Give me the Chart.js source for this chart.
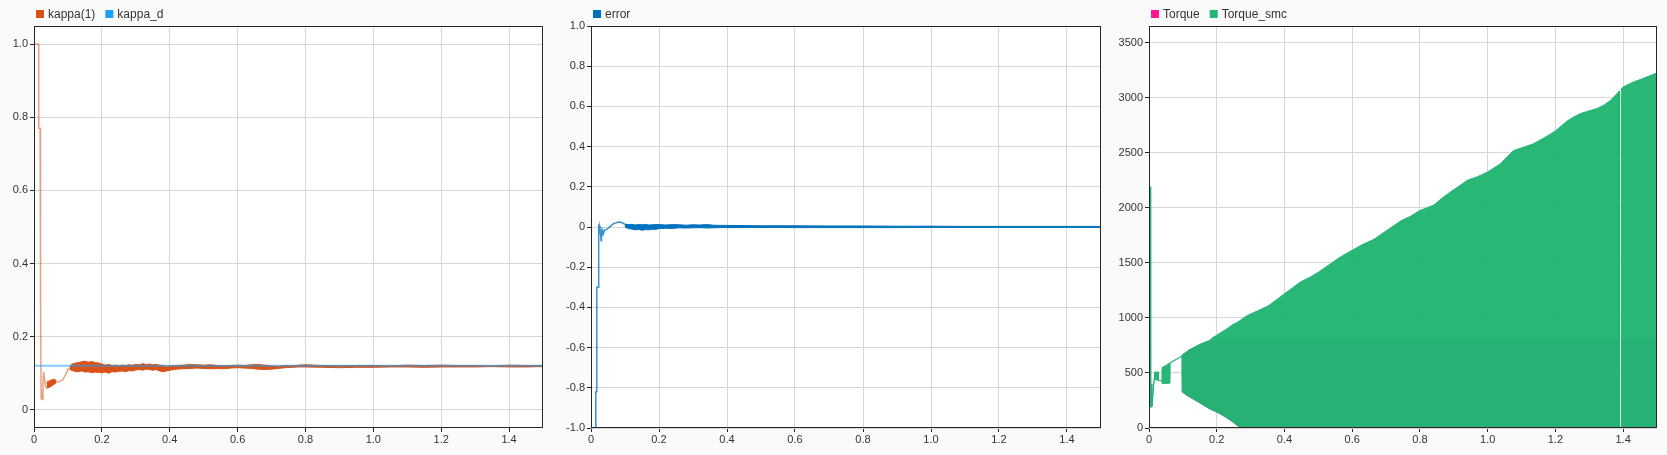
<!DOCTYPE html>
<html><head><meta charset="utf-8">
<script src="https://cdn.jsdelivr.net/npm/chart.js@4.4.1/dist/chart.umd.min.js"></script>
<style>
html,body{margin:0;padding:0;background:#fafafa;}
body{width:1667px;height:455px;position:relative;overflow:hidden;}
.p{position:absolute;top:0;height:455px;}
canvas{display:block;}
</style></head><body>
<div class="p" style="left:0;width:556px"><canvas id="c1" width="556" height="455"></canvas></div>
<div class="p" style="left:556px;width:556px"><canvas id="c2" width="556" height="455"></canvas></div>
<div class="p" style="left:1112px;width:555px"><canvas id="c3" width="555" height="455"></canvas></div>
<script>
// ---------- shared axis ticks ----------
const xTicks = [0, 0.2, 0.4, 0.6, 0.8, 1.0, 1.2, 1.4];
const xTickLabels = ['0', '0.2', '0.4', '0.6', '0.8', '1.0', '1.2', '1.4'];

// ---------- panel 1: kappa ----------
const kappaYTicks = [0, 0.2, 0.4, 0.6, 0.8, 1.0];
const kappaYLabels = ['0', '0.2', '0.4', '0.6', '0.8', '1.0'];
const kappaLineT = [0, 0, 0.014, 0.0141, 0.018, 0.0181, 0.0205, 0.021, 0.023, 0.0245, 0.0265, 0.0285, 0.031, 0.034, 0.0375, 0.05, 0.065, 0.075, 0.085, 0.092, 0.100, 0.105];
const kappaLine  = [-0.05, 1.0, 1.0, 0.77, 0.77, 0.30, 0.30, 0.03, 0.055, 0.028, 0.07, 0.103, 0.085, 0.065, 0.060, 0.070, 0.076, 0.077, 0.082, 0.094, 0.110, 0.114];
const kappaEarlyBandT = [0.0375, 0.041, 0.045, 0.049, 0.052, 0.055, 0.058, 0.062, 0.065];
const kappaEarlyUpper = [0.072, 0.079, 0.077, 0.082, 0.080, 0.084, 0.082, 0.083, 0.080];
const kappaEarlyLower = [0.058, 0.062, 0.060, 0.065, 0.064, 0.068, 0.069, 0.071, 0.074];
const kappaBandT = [0.105, 0.11, 0.12, 0.13, 0.14, 0.15, 0.16, 0.17, 0.18, 0.19,
  0.20, 0.21, 0.22, 0.23, 0.24, 0.25, 0.26, 0.27, 0.28, 0.29,
  0.30, 0.31, 0.32, 0.33, 0.34, 0.35, 0.36, 0.37, 0.38, 0.39,
  0.40, 0.42, 0.44, 0.46, 0.48, 0.50, 0.52, 0.54, 0.56, 0.58,
  0.60, 0.62, 0.64, 0.66, 0.68, 0.70, 0.72, 0.74, 0.76, 0.78,
  0.80, 0.85, 0.90, 0.95, 1.00, 1.05, 1.10, 1.15, 1.20, 1.25,
  1.30, 1.35, 1.40, 1.45, 1.50];
const kappaUpper = [0.118, 0.124, 0.127, 0.129, 0.131, 0.133, 0.130, 0.132, 0.129, 0.128,
  0.125, 0.122, 0.124, 0.121, 0.122, 0.120, 0.122, 0.121, 0.123, 0.122,
  0.124, 0.123, 0.126, 0.124, 0.125, 0.123, 0.124, 0.122, 0.121, 0.119,
  0.120, 0.121, 0.122, 0.124, 0.123, 0.122, 0.123, 0.121, 0.120, 0.121,
  0.122, 0.121, 0.123, 0.124, 0.122, 0.120, 0.119, 0.121, 0.120, 0.122,
  0.123, 0.121, 0.120, 0.121, 0.121, 0.120, 0.122, 0.121, 0.122, 0.121,
  0.121, 0.120, 0.122, 0.121, 0.121];
const kappaLower = [0.110, 0.108, 0.105, 0.104, 0.106, 0.103, 0.104, 0.101, 0.103, 0.102,
  0.101, 0.103, 0.100, 0.104, 0.103, 0.105, 0.106, 0.104, 0.107, 0.106,
  0.109, 0.110, 0.108, 0.111, 0.110, 0.108, 0.110, 0.106, 0.104, 0.106,
  0.108, 0.111, 0.112, 0.113, 0.114, 0.113, 0.112, 0.113, 0.112, 0.114,
  0.115, 0.114, 0.113, 0.111, 0.110, 0.111, 0.113, 0.115, 0.116, 0.117,
  0.117, 0.116, 0.115, 0.116, 0.116, 0.117, 0.117, 0.116, 0.117, 0.117,
  0.117, 0.118, 0.117, 0.117, 0.118];
const kappaDT = [0, 1.5];
const kappaD  = [0.12, 0.12];

// ---------- panel 2: error ----------
const errYTicks = [-1.0, -0.8, -0.6, -0.4, -0.2, 0, 0.2, 0.4, 0.6, 0.8, 1.0];
const errYLabels = ['-1.0', '-0.8', '-0.6', '-0.4', '-0.2', '0', '0.2', '0.4', '0.6', '0.8', '1.0'];
const errLineT = [0, 0.014, 0.0141, 0.017, 0.0171, 0.0215, 0.0218, 0.0235, 0.0248, 0.026, 0.0275, 0.0297, 0.031, 0.033, 0.035, 0.037, 0.040, 0.0466, 0.0565, 0.0664, 0.0812, 0.091, 0.101, 0.106];
const errLine  = [-1.2, -1.2, -0.82, -0.82, -0.30, -0.30, 0.012, -0.010, 0.005, -0.035, -0.015, -0.068, -0.025, -0.040, -0.020, -0.030, -0.015, -0.012, 0.003, 0.017, 0.025, 0.022, 0.012, 0.006];
const errBandT = [0.10, 0.11, 0.12, 0.13, 0.14, 0.15, 0.16, 0.17, 0.18, 0.19,
  0.20, 0.22, 0.24, 0.26, 0.28, 0.30, 0.32, 0.34, 0.36, 0.38,
  0.40, 0.45, 0.50, 0.55, 0.60, 0.70, 0.80, 0.90, 1.00, 1.10,
  1.20, 1.30, 1.40, 1.50];
const errUpper = [0.014, 0.012, 0.013, 0.010, 0.012, 0.011, 0.013, 0.010, 0.011, 0.012,
  0.012, 0.010, 0.012, 0.011, 0.009, 0.011, 0.010, 0.012, 0.009, 0.008,
  0.008, 0.007, 0.006, 0.006, 0.006, 0.005, 0.005, 0.004, 0.004, 0.003,
  0.003, 0.003, 0.003, 0.003];
const errLower = [0.000, -0.008, -0.010, -0.014, -0.012, -0.016, -0.013, -0.014, -0.011, -0.012,
  -0.008, -0.006, -0.007, -0.004, -0.005, -0.004, -0.003, -0.005, -0.004, -0.003,
  -0.003, -0.002, -0.003, -0.002, -0.003, -0.003, -0.003, -0.003, -0.002, -0.002,
  -0.002, -0.002, -0.002, -0.002];

// ---------- panel 3: torque ----------
const torqueYTicks = [0, 500, 1000, 1500, 2000, 2500, 3000, 3500];
const torqueYLabels = ['0', '500', '1000', '1500', '2000', '2500', '3000', '3500'];
const smcT = [0, 0.0045, 0.005, 0.008, 0.0085, 0.011, 0.014, 0.018, 0.0185, 0.022, 0.027, 0.0275, 0.038, 0.0385, 0.045, 0.050, 0.056, 0.062, 0.0625, 0.070, 0.080, 0.090, 0.097, 0.0975, 0.11, 0.12, 0.135, 0.15, 0.165, 0.177, 0.19, 0.2, 0.215, 0.23, 0.245, 0.254, 0.262, 0.27, 0.285, 0.3, 0.32, 0.35, 0.375, 0.4, 0.425, 0.447, 0.475, 0.5, 0.53, 0.565, 0.6, 0.63, 0.664, 0.703, 0.743, 0.772, 0.8, 0.82, 0.841, 0.865, 0.89, 0.915, 0.94, 0.97, 1.0, 1.038, 1.06, 1.077, 1.105, 1.136, 1.17, 1.2, 1.235, 1.255, 1.274, 1.3, 1.323, 1.345, 1.363, 1.38, 1.3885, 1.389, 1.394, 1.3945, 1.4, 1.431, 1.46, 1.5];
const smcUpper = [2190, 2190, 400, 400, 195, 280, 400, 505, 512, 505, 510, 432, 430, 548, 560, 568, 580, 590, 592, 606, 622, 640, 652, 662, 690, 712, 735, 760, 778, 792, 825, 842, 872, 900, 935, 948, 962, 978, 1012, 1035, 1063, 1105, 1160, 1220, 1275, 1326, 1368, 1415, 1478, 1553, 1614, 1665, 1713, 1795, 1880, 1922, 1975, 1998, 2025, 2085, 2143, 2195, 2249, 2282, 2325, 2400, 2470, 2520, 2548, 2582, 2640, 2697, 2788, 2825, 2855, 2880, 2900, 2935, 2976, 3030, 3060, 0, 0, 3078, 3097, 3142, 3175, 3224];
const smcLower = [190, 190, 190, 190, 195, 280, 400, 505, 440, 438, 435, 432, 430, 405, 405, 405, 405, 408, 592, 606, 622, 640, 652, 330, 300, 282, 255, 228, 200, 178, 158, 145, 120, 92, 60, 40, 20, 0, 0, 0, 0, 0, 0, 0, 0, 0, 0, 0, 0, 0, 0, 0, 0, 0, 0, 0, 0, 0, 0, 0, 0, 0, 0, 0, 0, 0, 0, 0, 0, 0, 0, 0, 0, 0, 0, 0, 0, 0, 0, 0, 0, 0, 0, 0, 0, 0, 0, 0];
const torqueT = [0.0975, 0.11, 0.12, 0.135, 0.15, 0.165, 0.177, 0.183, 0.2, 0.215, 0.23, 0.245, 0.254, 0.262, 0.27, 1.3885, 1.389, 1.394, 1.3945, 1.5];
const torqueUpper = [662, 690, 712, 735, 760, 778, 792, 800, 800, 800, 800, 800, 800, 800, 800, 800, 0, 0, 800, 800];
const torqueLower = [330, 300, 282, 255, 228, 200, 178, 168, 145, 120, 92, 60, 40, 20, 0, 0, 0, 0, 0, 0];

// ---------- helpers ----------
const pts = (t, v) => t.map((x, i) => ({x: x, y: v[i]}));
const FONT = '"Liberation Sans", Arial, sans-serif';

const bgPlugin = {id: 'plotBg', beforeDraw(chart) {
  const a = chart.chartArea, ctx = chart.ctx;
  ctx.save(); ctx.fillStyle = '#ffffff';
  ctx.fillRect(a.left, a.top, a.right - a.left, a.bottom - a.top);
  ctx.restore();
}};
const framePlugin = {id: 'plotFrame', afterDraw(chart) {
  const a = chart.chartArea, ctx = chart.ctx;
  ctx.save(); ctx.strokeStyle = '#262626'; ctx.lineWidth = 1;
  const l = Math.round(a.left) + 0.5, t = Math.round(a.top) + 0.5;
  const r = Math.round(a.right) - 0.5, b = Math.round(a.bottom) - 0.5;
  ctx.strokeRect(l, t, r - l, b - t);
  ctx.restore();
}};
const legendPlugin = {id: 'customLegend', afterDraw(chart, args, opts) {
  const ctx = chart.ctx; let x = Math.round(chart.chartArea.left) + 2; const y = 14;
  ctx.save(); ctx.font = '12px ' + FONT; ctx.textBaseline = 'middle'; ctx.textAlign = 'left';
  for (const it of opts.items) {
    ctx.fillStyle = it.color; ctx.fillRect(x, y - 4, 8, 8);
    x += 12; ctx.fillStyle = '#333333'; ctx.fillText(it.label, x, y + 0.5);
    x += ctx.measureText(it.label).width + 10;
  }
  ctx.restore();
}};

function axis(min, max, tickVals, tickLabels, fitFn) {
  return {
    type: 'linear', min: min, max: max,
    afterBuildTicks: s => { s.ticks = tickVals.map(v => ({value: v})); },
    afterFit: fitFn,
    ticks: {callback: (v, i) => tickLabels[i], font: {family: FONT, size: 11}, color: '#333333', padding: 2, maxRotation: 0, autoSkip: false},
    grid: {color: '#d6d6d6', tickColor: '#262626', tickLength: 4, lineWidth: 1},
    border: {display: false}
  };
}

function makeChart(id, cfg) {
  const xs = axis(0, 1.5, xTicks, xTickLabels, s => { s.height = 27; });
  xs.ticks.padding = 1;
  return new Chart(document.getElementById(id), {
    type: 'line',
    data: {datasets: cfg.datasets},
    options: {
      responsive: false, animation: false, devicePixelRatio: 1,
      layout: {padding: {top: 26, right: cfg.padRight, left: 0, bottom: 0}},
      elements: {point: {radius: 0}, line: {tension: 0}},
      plugins: {legend: {display: false}, tooltip: {enabled: false}, customLegend: {items: cfg.legend}},
      scales: {x: xs, y: axis(cfg.yMin, cfg.yMax, cfg.yTicks, cfg.yLabels, s => { s.width = cfg.yWidth; })}
    },
    plugins: [bgPlugin, framePlugin, legendPlugin]
  });
}

// panel 1
makeChart('c1', {
  yMin: -0.05, yMax: 1.05, yTicks: kappaYTicks, yLabels: kappaYLabels, yWidth: 34, padRight: 13,
  legend: [{label: 'kappa(1)', color: '#D95319'}, {label: 'kappa_d', color: '#1BA1F5'}],
  datasets: [
    {label: 'kappa_d', data: pts(kappaDT, kappaD), borderColor: 'rgba(27,161,245,0.55)', borderWidth: 2, fill: false, order: 0},
    {label: 'kappa(1)', data: pts(kappaLineT, kappaLine), borderColor: 'rgba(217,83,25,0.55)', borderWidth: 1.5, fill: false, order: 1},
    {label: 'kl', data: pts(kappaEarlyBandT, kappaEarlyLower), borderColor: '#D95319', borderWidth: 1, fill: false, order: 2},
    {label: 'ku', data: pts(kappaEarlyBandT, kappaEarlyUpper), borderColor: '#D95319', borderWidth: 1, fill: 2, backgroundColor: '#D95319', order: 2},
    {label: 'kbl', data: pts(kappaBandT, kappaLower), borderColor: '#D95319', borderWidth: 1, fill: false, order: 2},
    {label: 'kbu', data: pts(kappaBandT, kappaUpper), borderColor: '#D95319', borderWidth: 1, fill: 4, backgroundColor: '#D95319', order: 2}
  ]
});

// panel 2
makeChart('c2', {
  yMin: -1, yMax: 1, yTicks: errYTicks, yLabels: errYLabels, yWidth: 35, padRight: 11,
  legend: [{label: 'error', color: '#0072BD'}],
  datasets: [
    {label: 'error', data: pts(errLineT, errLine), borderColor: 'rgba(0,114,189,0.78)', borderWidth: 1.5, fill: false, order: 0},
    {label: 'el', data: pts(errBandT, errLower), borderColor: '#0072BD', borderWidth: 1, fill: false, order: 1},
    {label: 'eu', data: pts(errBandT, errUpper), borderColor: '#0072BD', borderWidth: 1, fill: 1, backgroundColor: '#0072BD', order: 1}
  ]
});

// panel 3
makeChart('c3', {
  yMin: 0, yMax: 3650, yTicks: torqueYTicks, yLabels: torqueYLabels, yWidth: 37, padRight: 10,
  legend: [{label: 'Torque', color: '#FF1493'}, {label: 'Torque_smc', color: '#23B574'}],
  datasets: [
    {label: 'tl', data: pts(torqueT, torqueLower), borderColor: 'rgba(255,20,147,0.6)', borderWidth: 1, fill: false, order: 5},
    {label: 'Torque', data: pts(torqueT, torqueUpper), borderColor: 'rgba(255,20,147,0.0)', borderWidth: 0, fill: 0, backgroundColor: '#FF1493', order: 5},
    {label: 'sl', data: pts(smcT, smcLower), borderColor: 'rgba(35,181,116,0.97)', borderWidth: 1, fill: false, order: 1},
    {label: 'Torque_smc', data: pts(smcT, smcUpper), borderColor: 'rgba(35,181,116,0.97)', borderWidth: 1, fill: 2, backgroundColor: 'rgba(35,181,116,0.975)', order: 1}
  ]
});
</script>
</body></html>
